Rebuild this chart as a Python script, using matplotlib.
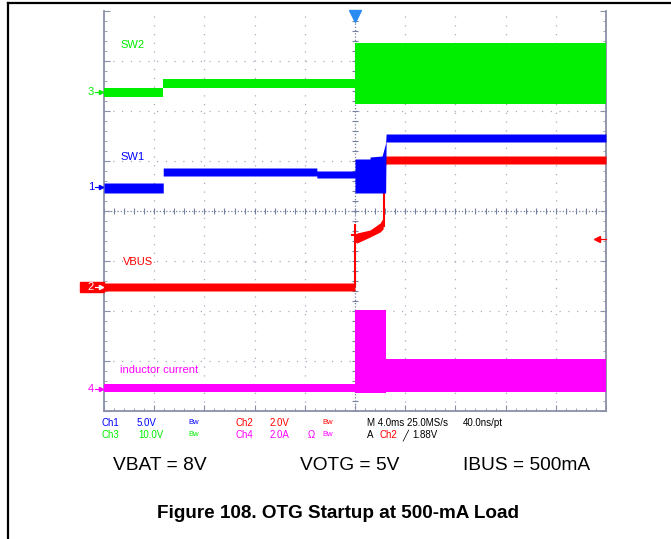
import numpy as np
import matplotlib.pyplot as plt
from matplotlib.lines import Line2D
from matplotlib.patches import Rectangle

plt.rcParams["font.family"] = ["Liberation Sans", "DejaVu Sans"]

# scope traces in screen divisions (x 0..10, y -4..4)
sw2_x = [0, 1.18, 1.18, 5.0, 5.0, 10]
sw2_lo = [2.29, 2.29, 2.46, 2.46, 2.14, 2.14]
sw2_hi = [2.46, 2.46, 2.64, 2.64, 3.36, 3.36]

sw1_x = [0, 1.18, 1.18, 4.24, 4.24, 5.0, 5.0, 5.3, 5.3, 5.54, 5.61, 5.62, 10]
sw1_lo = [0.36, 0.36, 0.70, 0.70, 0.66, 0.66, 0.36, 0.36, 0.36, 0.36, 0.36, 1.38, 1.38]
sw1_hi = [0.56, 0.56, 0.86, 0.86, 0.80, 0.80, 1.04, 1.04, 1.08, 1.10, 1.36, 1.54, 1.54]

vbus_x = [0, 5.0, 5.0, 5.04, 5.30, 5.50, 5.56, 5.60, 5.62, 10]
vbus_lo = [-1.60, -1.60, -0.62, -0.64, -0.52, -0.42, -0.36, 0.90, 0.94, 0.94]
vbus_hi = [-1.44, -1.44, -0.50, -0.44, -0.38, -0.24, -0.14, 1.10, 1.10, 1.10]

ind_x = [0, 5.0, 5.0, 5.62, 5.62, 10]
ind_lo = [-3.62, -3.62, -3.64, -3.64, -3.62, -3.62]
ind_hi = [-3.46, -3.46, -1.98, -1.98, -2.96, -2.96]

# channel ground markers
ch_names = ["3", "1", "2", "4"]
ch_levels = [2.38, 0.48, -1.52, -3.56]
trig_level = -0.56

GREEN = "#00ee00"
BLUE = "#0000ff"
RED = "#ff0000"
MAGENTA = "#ff00ff"
ch_colors = [GREEN, BLUE, RED, MAGENTA]

fig = plt.figure(figsize=(6.71, 5.39), dpi=100)
ax = fig.add_axes([104 / 671, 1 - 411 / 539, 502 / 671, 400 / 539])
ax.set_xlim(0, 10)
ax.set_ylim(-4, 4)

grid_c = "#a8acc0"
for gx in range(1, 10):
    if gx != 5:
        ax.axvline(gx, color=grid_c, ls=(0, (1, 6)), lw=0.9, zorder=1)
for gy in range(-3, 4):
    if gy != 0:
        ax.axhline(gy, color=grid_c, ls=(0, (1, 6)), lw=0.9, zorder=1)
ax.axhline(0, color="#7880a0", ls=(0, (1, 1.6)), lw=0.9, zorder=1)
ax.axvline(5, color="#7880a0", ls=(0, (1, 1.6)), lw=0.9, zorder=1)
tx = np.arange(0, 10.01, 0.2)
ty = np.arange(-4, 4.01, 0.2)
ax.plot(tx, np.zeros_like(tx), ls="none", marker="|", ms=4, color="#7880a0", mew=0.8, zorder=1)
ax.plot(np.full_like(ty, 5.0), ty, ls="none", marker="_", ms=4, color="#7880a0", mew=0.8, zorder=1)

for s in ["left", "right", "bottom"]:
    ax.spines[s].set_color("#8a90a8")
    ax.spines[s].set_linewidth(1.3)
ax.spines["top"].set_visible(False)
ax.set_xticks(range(0, 11))
ax.set_yticks(range(-4, 5))
ax.set_xticks(tx, minor=True)
ax.set_yticks(ty, minor=True)
ax.tick_params(which="both", direction="in", left=True, right=True, bottom=True, top=False,
               labelleft=False, labelbottom=False, color="#8a90a8")
ax.tick_params(which="major", length=4)
ax.tick_params(which="minor", length=2.5)

# traces
ax.fill_between(sw2_x, sw2_lo, sw2_hi, color=GREEN, lw=0, zorder=3)
ax.fill_between(ind_x, ind_lo, ind_hi, color=MAGENTA, lw=0, zorder=3)
ax.fill_between(vbus_x, vbus_lo, vbus_hi, color=RED, lw=0, zorder=4)
ax.plot([5.0, 5.0], [-1.5, -0.28], color=RED, lw=1.5, zorder=4)
ax.plot([4.94, 5.06], [-0.48, -0.48], color=RED, lw=1.5, zorder=4)
ax.plot([5.58, 5.58], [-0.3, 1.0], color=RED, lw=1.5, zorder=4)
ax.fill_between(sw1_x, sw1_lo, sw1_hi, color=BLUE, lw=0, zorder=5)

ax.text(0.32, 3.32, "SW2", color=GREEN, fontsize=8, va="center")
ax.text(0.32, 1.08, "SW1", color=BLUE, fontsize=8, va="center")
ax.text(0.38, -1.02, "VBUS", color=RED, fontsize=8, va="center")
ax.text(0.32, -3.18, "inductor current", color=MAGENTA, fontsize=8, va="center")

# channel reference markers on the left edge
for name, lvl, col in zip(ch_names, ch_levels, ch_colors):
    if name == "2":
        ax.add_patch(Rectangle((-0.48, lvl - 0.1), 0.48, 0.2, color=RED, clip_on=False, zorder=6))
        tc = "white"
    else:
        tc = col
    ax.text(-0.2, lvl, name, color=tc, fontsize=8, ha="right", va="center", zorder=7)
    ax.plot([-0.17, -0.03], [lvl, lvl], color=tc, lw=0.8, clip_on=False, zorder=7)
    ax.plot([-0.05], [lvl], marker=">", ms=3, color=tc, clip_on=False, zorder=7)

# trigger position and level markers
ax.plot([5.0], [3.9], marker="v", ms=8, color="#2a8cf0", clip_on=False, zorder=8)
ax.plot([9.8, 10.0], [trig_level, trig_level], color=RED, lw=0.9, clip_on=False, zorder=8)
ax.plot([9.82], [trig_level], marker="<", ms=4, color=RED, clip_on=False, zorder=8)

# scope readout
row1 = [("Ch1", BLUE, 102), ("5.0V", BLUE, 137), ("Bw", BLUE, 188), ("Ch2", RED, 235),
        ("2.0V", RED, 270), ("Bw", RED, 322), ("M 4.0ms 25.0MS/s", "black", 367),
        ("40.0ns/pt", "black", 463)]
row2 = [("Ch3", GREEN, 102), ("10.0V", GREEN, 138), ("Bw", GREEN, 188), ("Ch4", MAGENTA, 235),
        ("2.0A", MAGENTA, 270), ("Ω", MAGENTA, 308), ("Bw", MAGENTA, 322), ("A", "black", 367),
        ("Ch2", RED, 379), ("╱", "black", 402), ("1.88V", "black", 412)]
for row, py in [(row1, 423), (row2, 435)]:
    for t, c, px in row:
        fs = 5.5 if t == "Bw" else 7
        fig.text(px / 671, 1 - py / 539, t, color=c, fontsize=fs, va="center", ha="left",
                 family=["Liberation Sans", "DejaVu Sans"])

fig.text(113 / 671, 1 - 465 / 539, "VBAT = 8V", fontsize=13.8, va="center")
fig.text(300 / 671, 1 - 465 / 539, "VOTG = 5V", fontsize=13.8, va="center")
fig.text(463 / 671, 1 - 465 / 539, "IBUS = 500mA", fontsize=13.8, va="center")
fig.text(338 / 671, 1 - 513 / 539, "Figure 108. OTG Startup at 500-mA Load", fontsize=13.6,
         fontweight="bold", ha="center", va="center")

# page frame
fig.add_artist(Line2D([8 / 671, 1], [1 - 3 / 539, 1 - 3 / 539], color="black", lw=1.6))
fig.add_artist(Line2D([8 / 671, 8 / 671], [0, 1 - 3 / 539], color="black", lw=1.6))

fig.savefig("out.png", dpi=100)
